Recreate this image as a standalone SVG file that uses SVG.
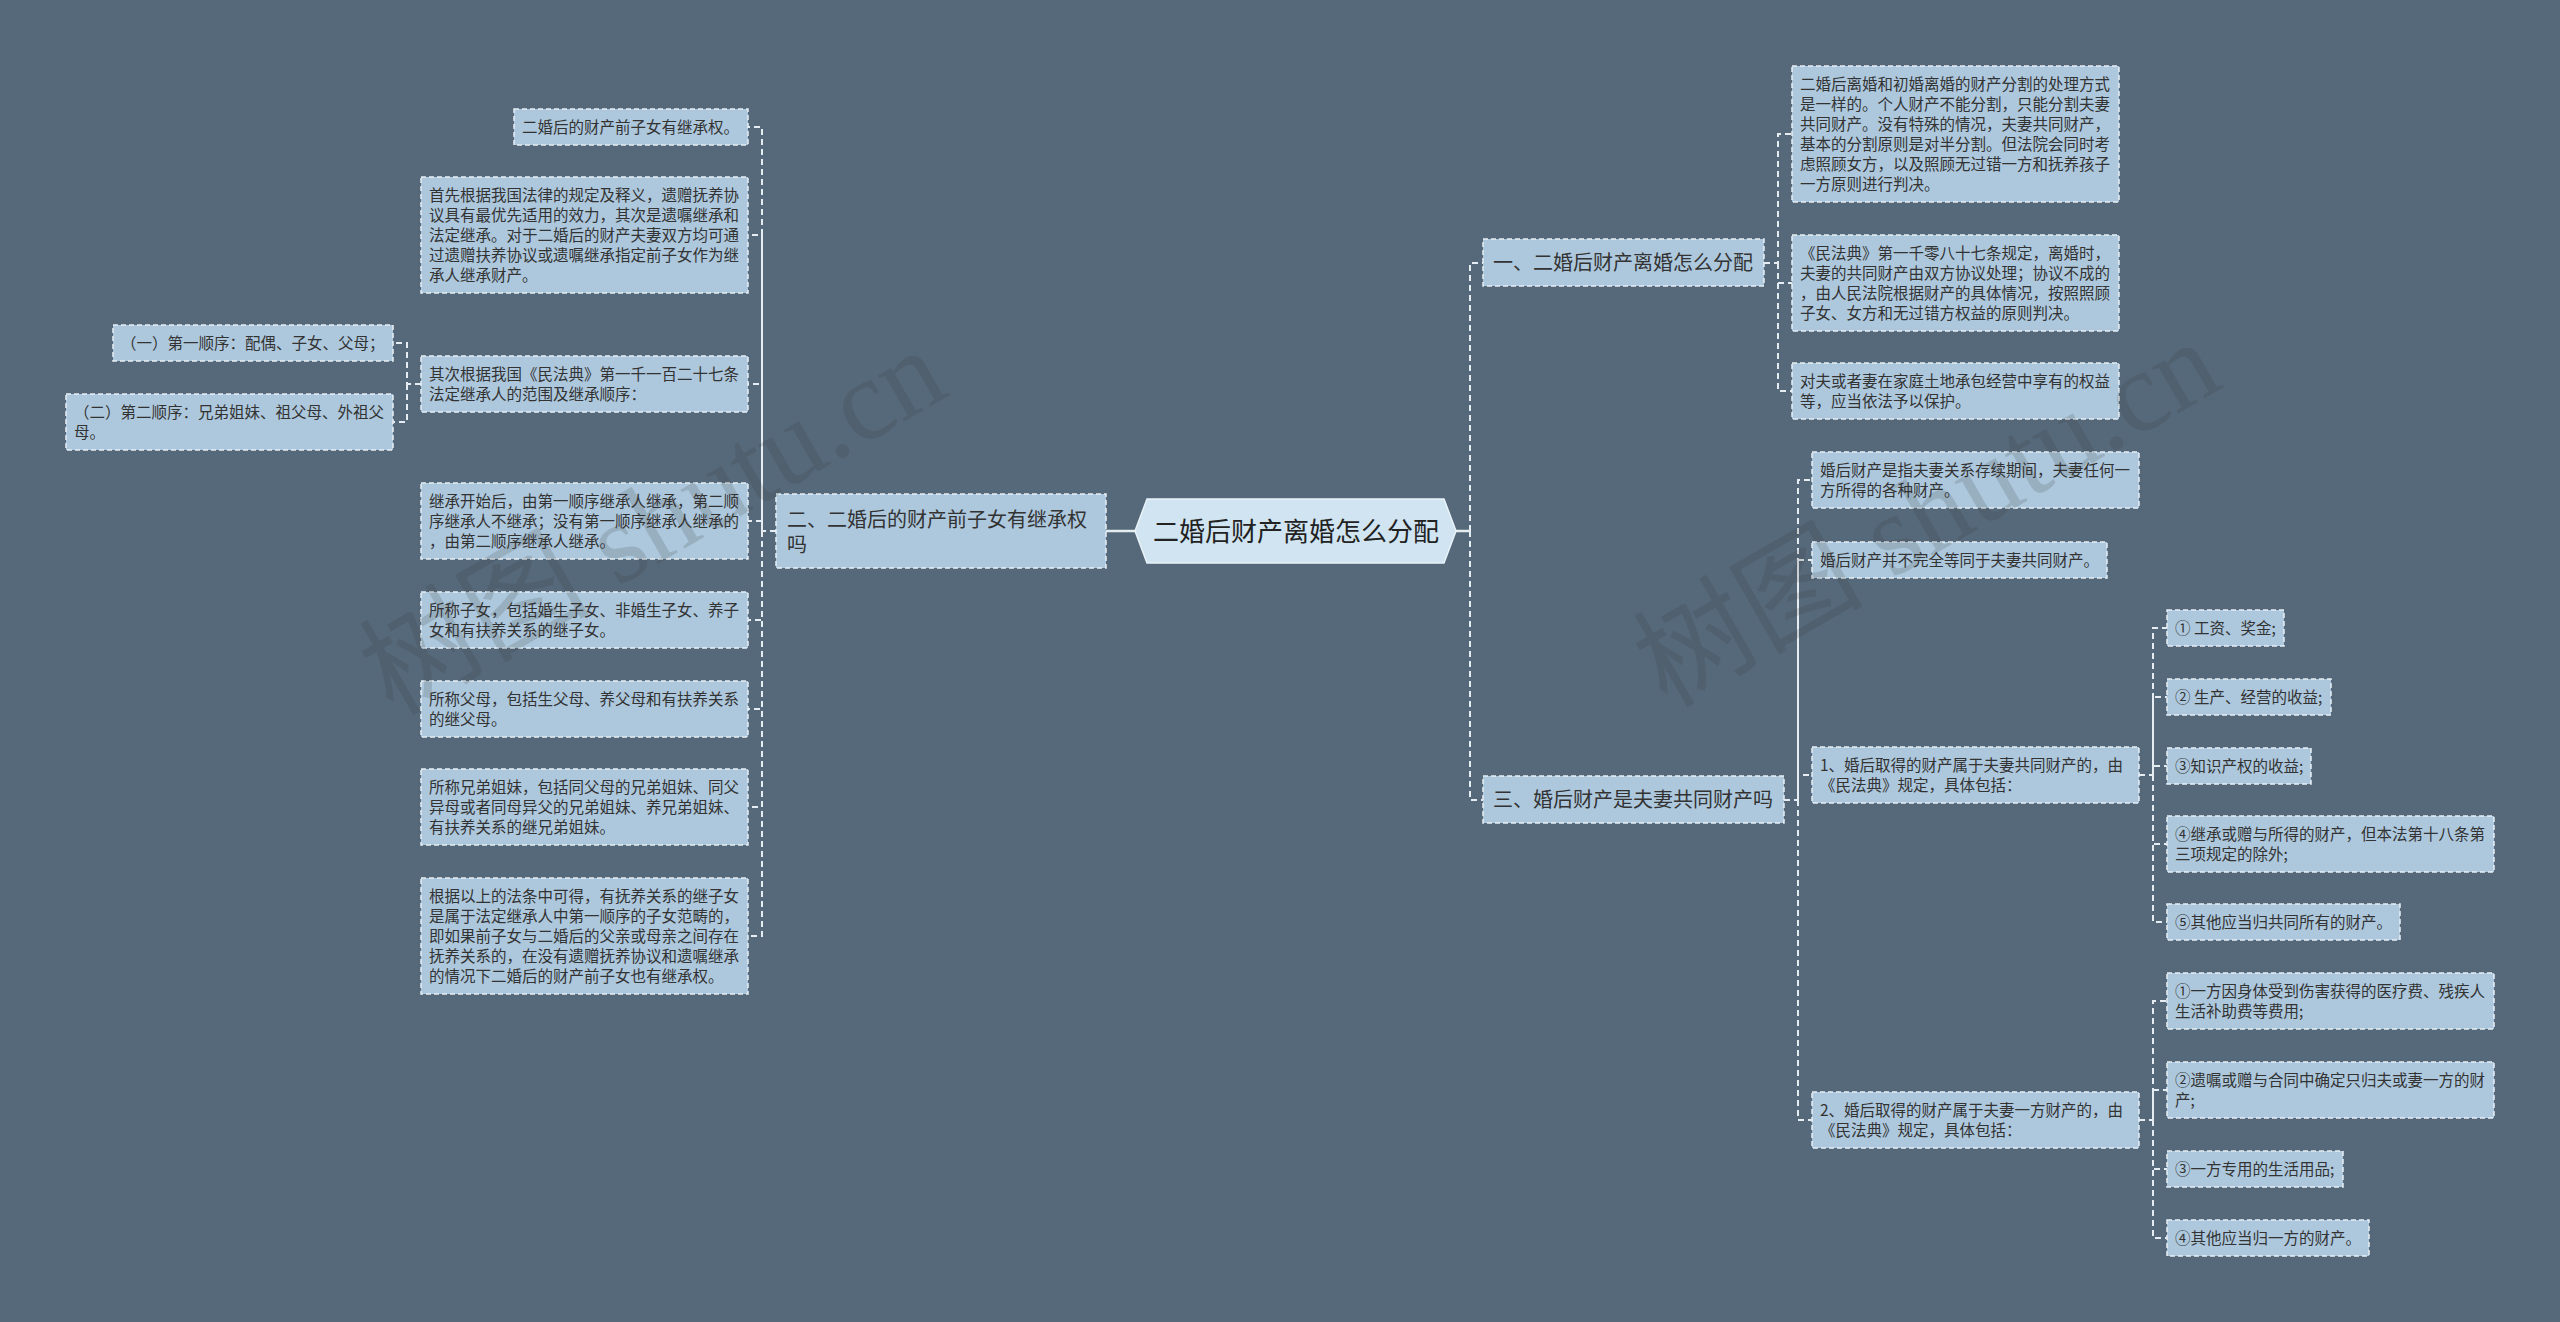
<svg xmlns="http://www.w3.org/2000/svg" width="2560" height="1322" viewBox="0 0 2560 1322">
<style>
.box{fill:#adc8dd;stroke:#e6eef4;stroke-width:1.5;stroke-dasharray:5 3}
.t{font-family:"Noto Sans CJK SC","Noto Sans",sans-serif;font-size:15.5px;fill:#333}
.tm{font-family:"Noto Sans CJK SC","Noto Sans",sans-serif;font-size:20px;fill:#333}
.c{fill:none;stroke:#e6edf2;stroke-width:2;stroke-dasharray:6 4}
.s{fill:none;stroke:#e6edf2;stroke-width:2.5}
.wm{font-family:"Liberation Serif","Noto Sans CJK SC",serif;font-size:115px;fill:#333;fill-opacity:0.17}
</style>
<rect width="2560" height="1322" fill="#56697a"/>
<g id="connectors">
<path class="s" d="M1456,531H1470"/>
<path class="s" d="M1135,531H1106"/>
<path class="c" d="M1470,531V263H1483M1470,531V800H1483"/>
<path class="c" d="M1764,263H1778V134H1792M1778,263V283H1792M1778,263V391H1792"/>
<path class="c" d="M1784,800H1798V480H1812M1798,800V560H1812M1798,800V775H1812M1798,800V1120H1812"/>
<path class="c" d="M2139,775H2153V628H2167M2153,775V697H2167M2153,775V766H2167M2153,775V844H2167M2153,775V922H2167"/>
<path class="c" d="M2139,1120H2153V1001H2167M2153,1120V1090H2167M2153,1120V1169H2167M2153,1120V1238H2167"/>
<path class="c" d="M776,531H762V127H748M762,531V235H748M762,531V384H748M762,531V521H748M762,531V620H748M762,531V709H748M762,531V807H748M762,531V936H748"/>
<path class="c" d="M421,384H407V343H393M407,384V422H393"/>
</g>
<g id="center">
<polygon points="1135,531 1147,499 1444,499 1456,531 1444,563 1147,563" fill="#d0e5f1" stroke="#e8f2f8" stroke-width="1.5"/>
<text x="1296" y="541" text-anchor="middle" style="font-family:'Noto Sans CJK SC','Noto Sans',sans-serif;font-size:26px;fill:#222">二婚后财产离婚怎么分配</text>
</g>
<g id="n1">
<rect class="box" x="1483" y="239" width="281" height="47"/>
<text class="tm" x="1493" y="270">一、二婚后财产离婚怎么分配</text>
</g>
<g id="n1a">
<rect class="box" x="1792" y="66" width="327" height="136"/>
<text class="t"><tspan x="1800" y="90">二婚后离婚和初婚离婚的财产分割的处理方式</tspan><tspan x="1800" y="110">是一样的。个人财产不能分割，只能分割夫妻</tspan><tspan x="1800" y="130">共同财产。没有特殊的情况，夫妻共同财产，</tspan><tspan x="1800" y="150">基本的分割原则是对半分割。但法院会同时考</tspan><tspan x="1800" y="170">虑照顾女方，以及照顾无过错一方和抚养孩子</tspan><tspan x="1800" y="190">一方原则进行判决。</tspan></text>
</g>
<g id="n1b">
<rect class="box" x="1792" y="235" width="327" height="96"/>
<text class="t"><tspan x="1800" y="259">《民法典》第一千零八十七条规定，离婚时，</tspan><tspan x="1800" y="279">夫妻的共同财产由双方协议处理；协议不成的</tspan><tspan x="1800" y="299">，由人民法院根据财产的具体情况，按照照顾</tspan><tspan x="1800" y="319">子女、女方和无过错方权益的原则判决。</tspan></text>
</g>
<g id="n1c">
<rect class="box" x="1792" y="363" width="327" height="56"/>
<text class="t"><tspan x="1800" y="387">对夫或者妻在家庭土地承包经营中享有的权益</tspan><tspan x="1800" y="407">等，应当依法予以保护。</tspan></text>
</g>
<g id="n3">
<rect class="box" x="1483" y="776" width="301" height="47"/>
<text class="tm" x="1493" y="807">三、婚后财产是夫妻共同财产吗</text>
</g>
<g id="n3a">
<rect class="box" x="1812" y="452" width="327" height="56"/>
<text class="t"><tspan x="1820" y="476">婚后财产是指夫妻关系存续期间，夫妻任何一</tspan><tspan x="1820" y="496">方所得的各种财产。</tspan></text>
</g>
<g id="n3b">
<rect class="box" x="1812" y="542" width="295" height="36"/>
<text class="t" x="1820" y="566">婚后财产并不完全等同于夫妻共同财产。</text>
</g>
<g id="n3c">
<rect class="box" x="1812" y="747" width="327" height="56"/>
<text class="t"><tspan x="1820" y="771">1、婚后取得的财产属于夫妻共同财产的，由</tspan><tspan x="1820" y="791">《民法典》规定，具体包括：</tspan></text>
</g>
<g id="n3d">
<rect class="box" x="1812" y="1092" width="327" height="56"/>
<text class="t"><tspan x="1820" y="1116">2、婚后取得的财产属于夫妻一方财产的，由</tspan><tspan x="1820" y="1136">《民法典》规定，具体包括：</tspan></text>
</g>
<g id="n3c1">
<rect class="box" x="2167" y="610" width="117" height="36"/>
<text class="t" x="2175" y="634">① 工资、奖金;</text>
</g>
<g id="n3c2">
<rect class="box" x="2167" y="679" width="164" height="36"/>
<text class="t" x="2175" y="703">② 生产、经营的收益;</text>
</g>
<g id="n3c3">
<rect class="box" x="2167" y="748" width="144" height="36"/>
<text class="t" x="2175" y="772">③知识产权的收益;</text>
</g>
<g id="n3c4">
<rect class="box" x="2167" y="816" width="327" height="56"/>
<text class="t"><tspan x="2175" y="840">④继承或赠与所得的财产，但本法第十八条第</tspan><tspan x="2175" y="860">三项规定的除外;</tspan></text>
</g>
<g id="n3c5">
<rect class="box" x="2167" y="904" width="233" height="36"/>
<text class="t" x="2175" y="928">⑤其他应当归共同所有的财产。</text>
</g>
<g id="n3d1">
<rect class="box" x="2167" y="973" width="327" height="56"/>
<text class="t"><tspan x="2175" y="997">①一方因身体受到伤害获得的医疗费、残疾人</tspan><tspan x="2175" y="1017">生活补助费等费用;</tspan></text>
</g>
<g id="n3d2">
<rect class="box" x="2167" y="1062" width="327" height="56"/>
<text class="t"><tspan x="2175" y="1086">②遗嘱或赠与合同中确定只归夫或妻一方的财</tspan><tspan x="2175" y="1106">产;</tspan></text>
</g>
<g id="n3d3">
<rect class="box" x="2167" y="1151" width="176" height="36"/>
<text class="t" x="2175" y="1175">③一方专用的生活用品;</text>
</g>
<g id="n3d4">
<rect class="box" x="2167" y="1220" width="202" height="36"/>
<text class="t" x="2175" y="1244">④其他应当归一方的财产。</text>
</g>
<g id="n2">
<rect class="box" x="776" y="494" width="330" height="74"/>
<text class="tm"><tspan x="787" y="527">二、二婚后的财产前子女有继承权</tspan><tspan x="787" y="552">吗</tspan></text>
</g>
<g id="n2a">
<rect class="box" x="514" y="109" width="234" height="36"/>
<text class="t" x="522" y="133">二婚后的财产前子女有继承权。</text>
</g>
<g id="n2b">
<rect class="box" x="421" y="177" width="327" height="116"/>
<text class="t"><tspan x="429" y="201">首先根据我国法律的规定及释义，遗赠抚养协</tspan><tspan x="429" y="221">议具有最优先适用的效力，其次是遗嘱继承和</tspan><tspan x="429" y="241">法定继承。对于二婚后的财产夫妻双方均可通</tspan><tspan x="429" y="261">过遗赠扶养协议或遗嘱继承指定前子女作为继</tspan><tspan x="429" y="281">承人继承财产。</tspan></text>
</g>
<g id="n2c">
<rect class="box" x="421" y="356" width="327" height="56"/>
<text class="t"><tspan x="429" y="380">其次根据我国《民法典》第一千一百二十七条</tspan><tspan x="429" y="400">法定继承人的范围及继承顺序：</tspan></text>
</g>
<g id="n2c1">
<rect class="box" x="113" y="325" width="280" height="36"/>
<text class="t" x="121" y="349">（一）第一顺序：配偶、子女、父母；</text>
</g>
<g id="n2c2">
<rect class="box" x="66" y="394" width="327" height="56"/>
<text class="t"><tspan x="74" y="418">（二）第二顺序：兄弟姐妹、祖父母、外祖父</tspan><tspan x="74" y="438">母。</tspan></text>
</g>
<g id="n2d">
<rect class="box" x="421" y="483" width="327" height="76"/>
<text class="t"><tspan x="429" y="507">继承开始后，由第一顺序继承人继承，第二顺</tspan><tspan x="429" y="527">序继承人不继承；没有第一顺序继承人继承的</tspan><tspan x="429" y="547">，由第二顺序继承人继承。</tspan></text>
</g>
<g id="n2e">
<rect class="box" x="421" y="592" width="327" height="56"/>
<text class="t"><tspan x="429" y="616">所称子女，包括婚生子女、非婚生子女、养子</tspan><tspan x="429" y="636">女和有扶养关系的继子女。</tspan></text>
</g>
<g id="n2f">
<rect class="box" x="421" y="681" width="327" height="56"/>
<text class="t"><tspan x="429" y="705">所称父母，包括生父母、养父母和有扶养关系</tspan><tspan x="429" y="725">的继父母。</tspan></text>
</g>
<g id="n2g">
<rect class="box" x="421" y="769" width="327" height="76"/>
<text class="t"><tspan x="429" y="793">所称兄弟姐妹，包括同父母的兄弟姐妹、同父</tspan><tspan x="429" y="813">异母或者同母异父的兄弟姐妹、养兄弟姐妹、</tspan><tspan x="429" y="833">有扶养关系的继兄弟姐妹。</tspan></text>
</g>
<g id="n2h">
<rect class="box" x="421" y="878" width="327" height="116"/>
<text class="t"><tspan x="429" y="902">根据以上的法条中可得，有抚养关系的继子女</tspan><tspan x="429" y="922">是属于法定继承人中第一顺序的子女范畴的，</tspan><tspan x="429" y="942">即如果前子女与二婚后的父亲或母亲之间存在</tspan><tspan x="429" y="962">抚养关系的，在没有遗赠抚养协议和遗嘱继承</tspan><tspan x="429" y="982">的情况下二婚后的财产前子女也有继承权。</tspan></text>
</g>
<g id="watermarks">
<text class="wm" x="653" y="522" text-anchor="middle" dominant-baseline="central" transform="rotate(-30 653 522)">树图 shutu.cn</text>
<text class="wm" x="1927" y="514" text-anchor="middle" dominant-baseline="central" transform="rotate(-30 1927 514)">树图 shutu.cn</text>
</g>
</svg>
